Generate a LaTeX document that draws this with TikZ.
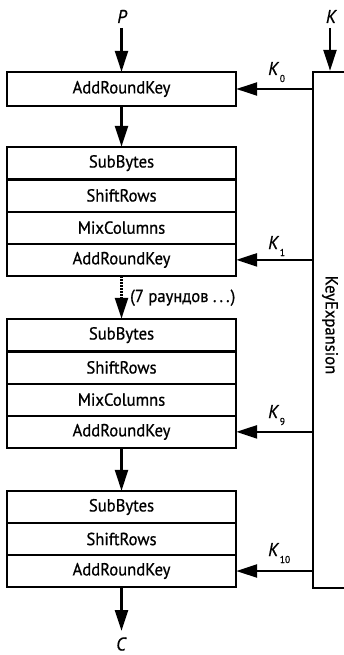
\documentclass[tikz,border=0pt]{standalone}
\usepackage{fontspec}
\setmainfont[FakeBold=0.7,FakeStretch=0.95]{PT Sans}
\usetikzlibrary{arrows.meta}
\begin{document}
\begin{tikzpicture}[x=1pt,y=-1pt,
  row/.style={minimum width=229pt, minimum height=#1, inner sep=0pt,
    font=\fontsize{17.5}{17.5}\selectfont},
  row/.default=32.25pt,
  frame/.style={line width=2.4pt},
  arr/.style={line width=2.6pt, -{Triangle[length=21pt,width=13pt]}},
  dotarr/.style={line width=2.6pt, dash pattern=on 1.6pt off 1.4pt, -{Triangle[length=21pt,width=13pt]}},
  big/.style={font=\fontsize{18.5}{18.5}\selectfont\itshape, inner sep=0pt},
  klab/.style={anchor=base west, inner sep=0pt, font=\fontsize{18.5}{18.5}\selectfont},
  txt/.style={font=\fontsize{17.5}{17.5}\selectfont, inner sep=0pt},
]
\useasboundingbox (0,0) rectangle (343,655);
\newcommand{\klabel}[1]{{\itshape K}\hspace{1.5pt}\raisebox{-7pt}{\fontsize{10}{10}\selectfont #1}}

% key expansion
\node[draw, frame, minimum width=50pt, minimum height=516pt, inner sep=0pt] (kx) at (338,330) {};
\node[txt, rotate=-90] (kxl) at (330,325) {KeyExpansion};

% box 1
\node[row=34pt] (a0) at (121.5,89) {AddRoundKey};

% box 2
\node[row] (s1) at (121.5,163.1) {SubBytes};
\node[row] (h1) at (121.5,195.4) {ShiftRows};
\node[row] (m1) at (121.5,227.6) {MixColumns};
\node[row] (a1) at (121.5,259.9) {AddRoundKey};

% box 3
\node[row] (s9) at (121.5,335.1) {SubBytes};
\node[row] (h9) at (121.5,367.4) {ShiftRows};
\node[row] (m9) at (121.5,399.6) {MixColumns};
\node[row] (a9) at (121.5,431.9) {AddRoundKey};

% box 4
\node[row=32pt] (s10) at (121.5,507) {SubBytes};
\node[row=32pt] (h10) at (121.5,539) {ShiftRows};
\node[row=32pt] (a10) at (121.5,571) {AddRoundKey};

% frames and dividers
\draw[frame] (a0.north west) rectangle (a0.south east);
\draw[frame] (s1.north west) rectangle (a1.south east);
\draw[frame] (s1.south west) -- (s1.south east);
\draw[frame] (h1.south west) -- (h1.south east);
\draw[frame] (m1.south west) -- (m1.south east);
\draw[frame] (s9.north west) rectangle (a9.south east);
\draw[frame] (s9.south west) -- (s9.south east);
\draw[frame] (h9.south west) -- (h9.south east);
\draw[frame] (m9.south west) -- (m9.south east);
\draw[frame] (s10.north west) rectangle (a10.south east);
\draw[frame] (s10.south west) -- (s10.south east);
\draw[frame] (h10.south west) -- (h10.south east);

% inputs / outputs
\node[big, anchor=base] (P) at (122,23) {P};
\node[big, anchor=base] (K) at (331,23) {K};
\node[big, anchor=base] (C) at (121,650.5) {C};
\coordinate (Pe) at (121.5,28);
\coordinate (Ke) at (330,28);
\coordinate (Ce) at (121.5,631);

\draw[arr] (Pe) -- (a0.north);
\draw[arr] (Ke) -- (Ke |- kx.north);
\draw[arr] (a0.south) -- (s1.north);
\draw[dotarr] (a1.south) -- (s9.north);
\draw[arr] (a9.south) -- (s10.north);
\draw[arr] (a10.south) -- (Ce);

\node[txt, anchor=base west] (seven) at (130,302) {(7 раундов\ .\hspace{3pt}.\hspace{3pt}.\hspace{1pt})};

% round keys
\draw[arr] (kx.west |- a0) -- (a0.east);
\draw[arr] (kx.west |- a1) -- (a1.east);
\draw[arr] (kx.west |- a9) -- (a9.east);
\draw[arr] (kx.west |- a10) -- (a10.east);

\node[klab] (k0) at (268,75) {\klabel{0}};
\node[klab] (k1) at (268,249) {\klabel{1}};
\node[klab] (k9) at (268,418) {\klabel{9}};
\node[klab] (k10) at (268,556) {\klabel{10}};
\end{tikzpicture}
\end{document}
